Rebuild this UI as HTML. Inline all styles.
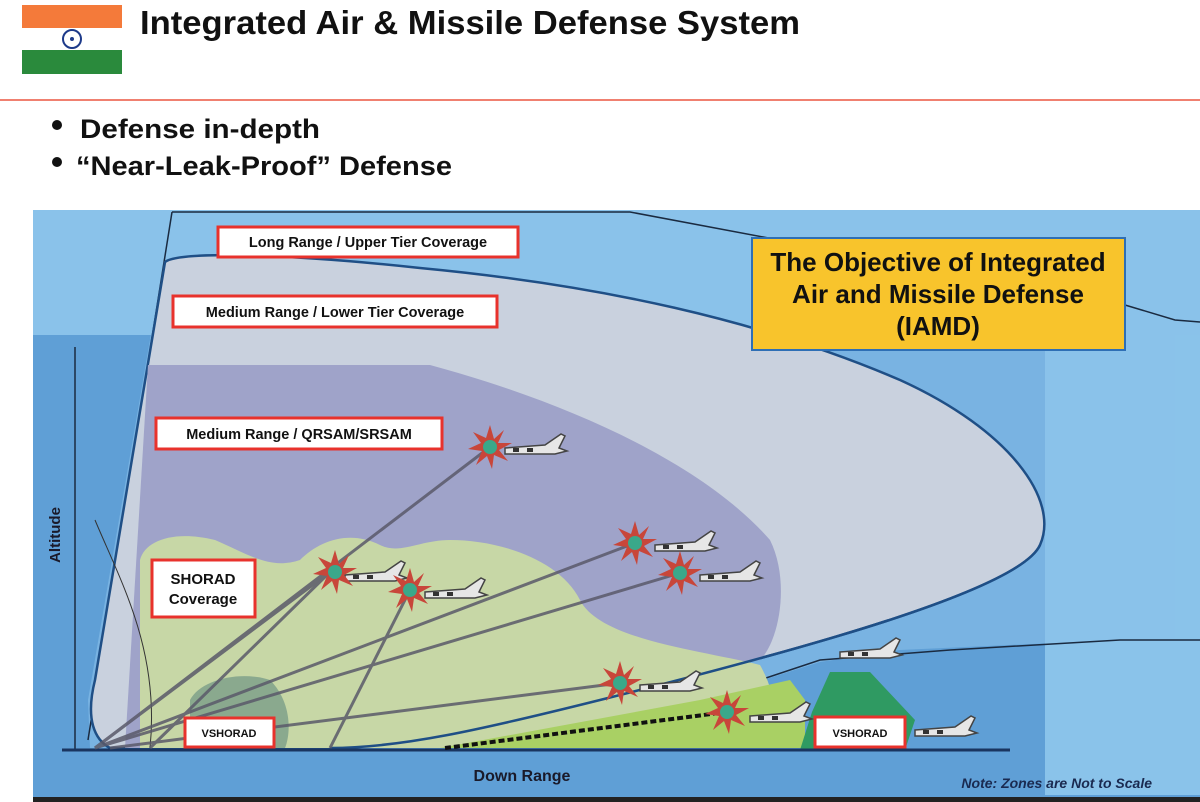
<!DOCTYPE html>
<html><head><meta charset="utf-8"><style>
html,body{margin:0;padding:0;background:#fff;width:1200px;height:802px;overflow:hidden}
svg{display:block}
text{font-family:"Liberation Sans",sans-serif;font-weight:bold}
</style></head><body>
<svg width="1200" height="802" viewBox="0 0 1200 802" xmlns="http://www.w3.org/2000/svg">
<defs>
<g id="burst">
<polygon points="0,-22 4,-8 14,-17 8,-4 22,-4 9,3 18,14 4,8 2,22 -3,9 -14,18 -8,4 -22,2 -9,-4 -17,-15 -4,-9" fill="#c8463a"/>
<circle r="7" fill="#3aa88a"/>
</g>
<g id="plane">
<path d="M0,0 L40,-3 L56,-14 L60,-12 L54,0 L62,3 L50,6 L0,6 Z" fill="#e6e6e6" stroke="#444" stroke-width="1.5"/>
<rect x="8" y="0" width="6" height="4" fill="#333"/><rect x="22" y="0" width="6" height="4" fill="#333"/>
</g>
</defs>
<!-- header -->
<rect x="22" y="5" width="100" height="23" fill="#f47a3a"/>
<rect x="22" y="28" width="100" height="22" fill="#fff"/>
<rect x="22" y="50" width="100" height="24" fill="#2a8a3c"/>
<circle cx="72" cy="39" r="9" fill="none" stroke="#1d3a8a" stroke-width="2"/>
<circle cx="72" cy="39" r="2" fill="#1d3a8a"/>
<text x="140" y="34" font-size="33" fill="#111" textLength="660" lengthAdjust="spacingAndGlyphs">Integrated Air &amp; Missile Defense System</text>
<rect x="0" y="99" width="1200" height="2" fill="#f08070"/>
<circle cx="57" cy="125" r="5" fill="#111"/>
<circle cx="57" cy="162" r="5" fill="#111"/>
<text x="80" y="138" font-size="27" fill="#111" textLength="240" lengthAdjust="spacingAndGlyphs">Defense in-depth</text>
<text x="76" y="175" font-size="27" fill="#111" textLength="376" lengthAdjust="spacingAndGlyphs">“Near-Leak-Proof” Defense</text>
<!-- diagram background -->
<rect x="33" y="210" width="1167" height="590" fill="#5f9fd6"/>
<rect x="33" y="210" width="1167" height="125" fill="#8ac2ea"/>
<rect x="1045" y="335" width="155" height="460" fill="#8ac3ea"/>
<!-- long range region -->
<path d="M172,212 L630,212 L1125,305 L1175,320 L1175,640 L1120,640 L900,650 L820,662 L700,700 L500,745 L90,748 L88,700 Z" fill="#8ac2ea" opacity="0.6"/>
<path d="M172,212 L630,212 L1125,305 L1175,320 L1200,322" fill="none" stroke="#1a2a40" stroke-width="1.5"/>
<path d="M172,212 L88,740" fill="none" stroke="#1a2a40" stroke-width="1.5"/>
<path d="M700,700 L820,660 L950,650 L1120,640 L1200,640" fill="none" stroke="#1a2a40" stroke-width="1.5"/>
<!-- medium range lower tier -->
<path d="M165,262 C180,250 300,255 420,268 C600,285 760,320 900,380 C1010,430 1060,500 1040,545 C1020,590 800,650 600,700 C480,730 400,748 330,748 L110,748 C95,740 85,720 95,680 Z" fill="#c9d1de" stroke="#1f4f86" stroke-width="2.5"/>
<!-- QRSAM -->
<path d="M148,365 L430,365 C560,400 700,460 770,540 C790,580 780,640 760,660 L600,690 L140,748 L125,748 Z" fill="#9fa3c9"/>
<!-- SHORAD -->
<path d="M140,560 C145,540 175,530 215,540 C250,555 270,570 300,560 C320,540 350,530 380,545 C400,555 420,540 450,540 C500,540 560,560 580,600 C600,640 700,650 760,665 C780,700 780,740 760,748 L140,748 Z" fill="#c7d7a6"/>
<path d="M440,748 L700,700 L790,680 L805,700 L805,748 Z" fill="#a9d064"/>
<path d="M190,700 C200,680 240,670 270,680 C290,700 292,730 285,748 L190,748 Z" fill="#7a9e88" opacity="0.8"/>
<path d="M830,672 L870,672 L915,720 L905,750 L800,750 L812,712 Z" fill="#2f9a62"/>
<path d="M1040,545 C1020,590 800,650 600,700 C480,730 400,748 330,748" fill="none" stroke="#1f4f86" stroke-width="2.5"/>
<path d="M95,520 C120,580 160,650 150,748" fill="none" stroke="#333" stroke-width="1"/>
<!-- axes -->
<line x1="75" y1="347" x2="75" y2="750" stroke="#1a2a40" stroke-width="1.5"/>
<line x1="62" y1="750" x2="1010" y2="750" stroke="#1a3560" stroke-width="3"/>
<text transform="translate(60,535) rotate(-90)" font-size="15" text-anchor="middle" fill="#1a1a2a">Altitude</text>
<!-- missile lines -->
<g stroke="#5a5a6a" stroke-width="3" opacity="0.85">
<line x1="95" y1="748" x2="490" y2="447"/>
<line x1="95" y1="748" x2="330" y2="572"/>
<line x1="150" y1="748" x2="330" y2="572"/>
<line x1="95" y1="748" x2="635" y2="543"/>
<line x1="95" y1="748" x2="680" y2="573"/>
<line x1="330" y1="748" x2="410" y2="590"/>
<line x1="110" y1="748" x2="620" y2="683"/>
</g>
<line x1="445" y1="748" x2="727" y2="712" stroke="#111" stroke-width="4" stroke-dasharray="6,3"/>
<!-- bursts & planes -->
<use href="#plane" x="505" y="448"/><use href="#burst" x="490" y="447"/>
<use href="#plane" x="345" y="575"/><use href="#burst" x="335" y="572"/>
<use href="#plane" x="425" y="592"/><use href="#burst" x="410" y="590"/>
<use href="#plane" x="655" y="545"/><use href="#burst" x="635" y="543"/>
<use href="#plane" x="700" y="575"/><use href="#burst" x="680" y="573"/>
<use href="#plane" x="640" y="685"/><use href="#burst" x="620" y="683"/>
<use href="#plane" x="750" y="716"/><use href="#burst" x="727" y="712"/>
<use href="#plane" x="840" y="652"/>
<use href="#plane" x="915" y="730"/>
<!-- labels -->
<g fill="#fff" stroke="#e8322c" stroke-width="3">
<rect x="218" y="227" width="300" height="30"/>
<rect x="173" y="296" width="324" height="31"/>
<rect x="156" y="418" width="286" height="31"/>
<rect x="152" y="560" width="103" height="57"/>
<rect x="185" y="718" width="89" height="29"/>
<rect x="815" y="717" width="90" height="30"/>
</g>
<g font-size="14.5" fill="#111" text-anchor="middle">
<text x="368" y="247">Long Range / Upper Tier Coverage</text>
<text x="335" y="317">Medium Range / Lower Tier Coverage</text>
<text x="299" y="439">Medium Range / QRSAM/SRSAM</text>
<text x="203" y="584" font-size="15">SHORAD</text>
<text x="203" y="604" font-size="15">Coverage</text>
<text x="229" y="737" font-size="11">VSHORAD</text>
<text x="860" y="737" font-size="11">VSHORAD</text>
</g>
<rect x="752" y="238" width="373" height="112" fill="#f8c42c" stroke="#2e6fb5" stroke-width="2"/>
<g font-size="26" fill="#111" text-anchor="middle">
<text x="938" y="271">The Objective of Integrated</text>
<text x="938" y="303">Air and Missile Defense</text>
<text x="938" y="335">(IAMD)</text>
</g>
<text x="522" y="781" font-size="16" fill="#1a1a2a" text-anchor="middle">Down Range</text>
<text x="1152" y="788" font-size="14" font-style="italic" fill="#1a2a50" text-anchor="end">Note: Zones are Not to Scale</text>
<rect x="33" y="797" width="1167" height="5" fill="#222"/>
</svg>
</body></html>
